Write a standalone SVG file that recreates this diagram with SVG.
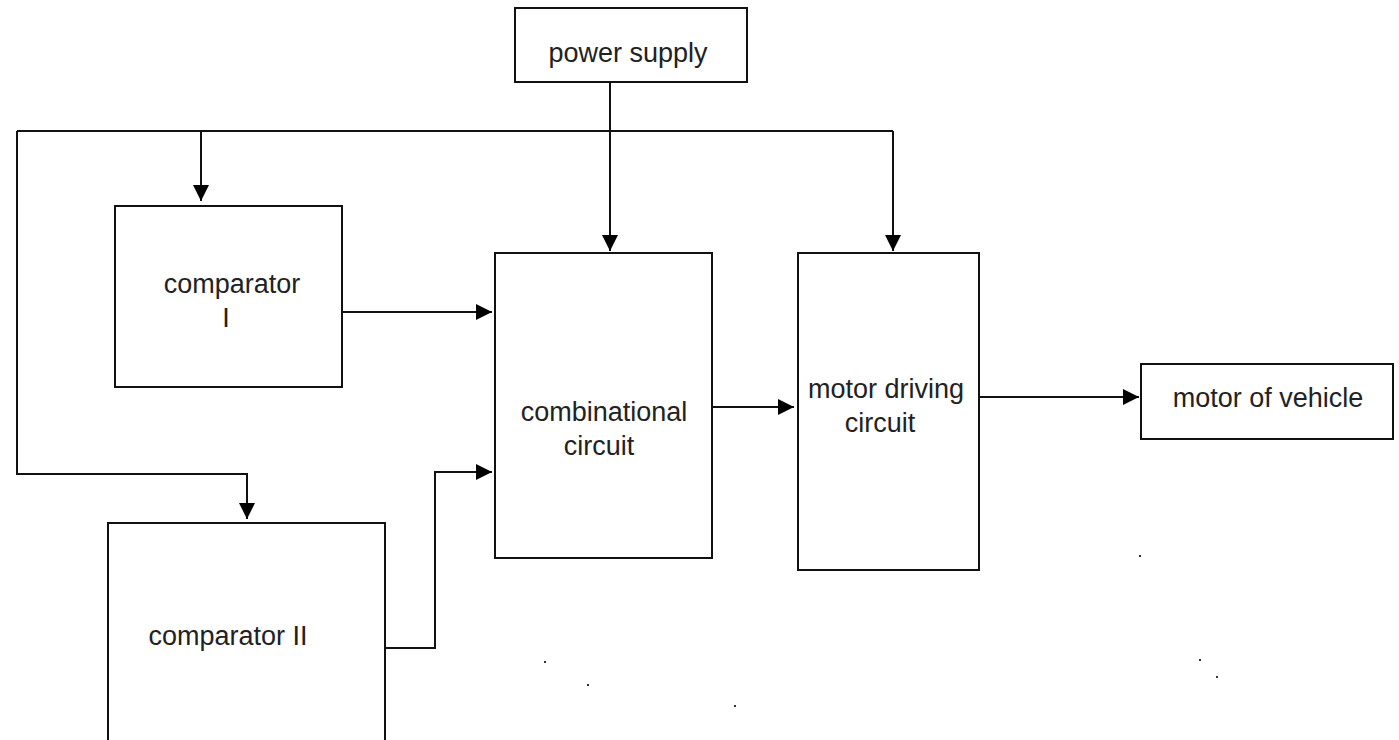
<svg xmlns="http://www.w3.org/2000/svg" width="1399" height="740" viewBox="0 0 1399 740">
<style>
.box{fill:#fff;stroke:#111;stroke-width:2}
.ln{fill:none;stroke:#111;stroke-width:2}
.t{font-family:"Liberation Sans",Arial,sans-serif;font-size:27px;fill:#222;text-anchor:middle}
.dot{fill:#333}
</style>
<defs>
<marker id="arr" viewBox="0 0 10 10" refX="10" refY="5" markerWidth="17" markerHeight="16" markerUnits="userSpaceOnUse" orient="auto">
<path d="M0,0 L10,5 L0,10 Z" fill="#000"/>
</marker>
</defs>
<rect width="1399" height="740" fill="#fff"/>
<g id="connectors">
<path class="ln" d="M610,82 V131"/>
<path class="ln" d="M17,131 H893"/>
<path class="ln" d="M201,131 V201" marker-end="url(#arr)"/>
<path class="ln" d="M610,131 V251" marker-end="url(#arr)"/>
<path class="ln" d="M893,131 V251" marker-end="url(#arr)"/>
<path class="ln" d="M17,131 V474 H247 V519" marker-end="url(#arr)"/>
<path class="ln" d="M342,312 H492" marker-end="url(#arr)"/>
<path class="ln" d="M385,648 H435 V472 H492" marker-end="url(#arr)"/>
<path class="ln" d="M712,407 H794" marker-end="url(#arr)"/>
<path class="ln" d="M979,397 H1139" marker-end="url(#arr)"/>
</g>
<g id="power-supply">
<rect class="box" x="515" y="8" width="232" height="74"/>
<text class="t" x="628" y="62">power supply</text>
</g>
<g id="comparator-1">
<rect class="box" x="115" y="206" width="227" height="181"/>
<text class="t" x="232" y="293">comparator</text>
<text class="t" x="226" y="327">I</text>
</g>
<g id="comparator-2">
<rect class="box" x="108" y="523" width="277" height="240"/>
<text class="t" x="228" y="645">comparator II</text>
</g>
<g id="combinational-circuit">
<rect class="box" x="495" y="253" width="217" height="305"/>
<text class="t" x="604" y="421">combinational</text>
<text class="t" x="599" y="455">circuit</text>
</g>
<g id="motor-driving-circuit">
<rect class="box" x="798" y="253" width="181" height="317"/>
<text class="t" x="886" y="398">motor driving</text>
<text class="t" x="880" y="432">circuit</text>
</g>
<g id="motor-of-vehicle">
<rect class="box" x="1141" y="364" width="252" height="75"/>
<text class="t" x="1268" y="407">motor of vehicle</text>
</g>
<g id="specks">
<rect class="dot" x="1139" y="555" width="2" height="2"/>
<rect class="dot" x="544" y="661" width="2" height="2"/>
<rect class="dot" x="587" y="684" width="2" height="2"/>
<rect class="dot" x="1199" y="659" width="2" height="2"/>
<rect class="dot" x="1216" y="676" width="2" height="2"/>
<rect class="dot" x="734" y="705" width="2" height="2"/>
</g>
</svg>
